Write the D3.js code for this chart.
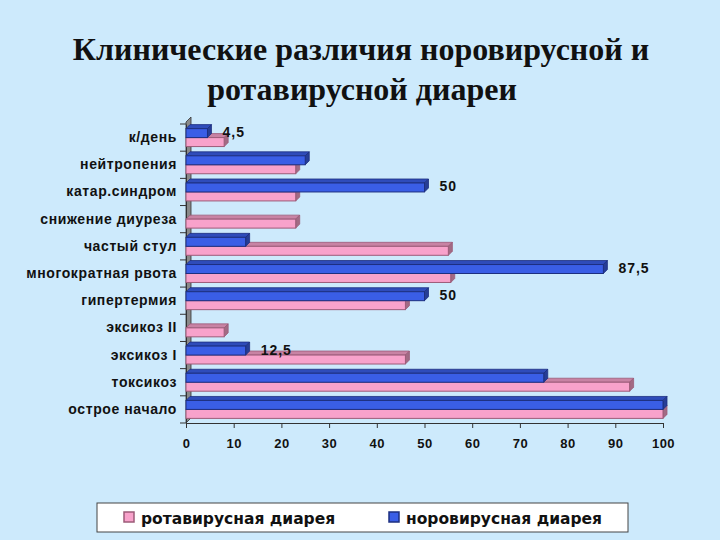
<!doctype html>
<html>
<head>
<meta charset="utf-8">
<style>
  body { margin: 0; background: #cdeafc; }
  svg { display: block; }
  .cat text { font-family: "Liberation Sans", Arial, sans-serif; font-weight: bold; font-size: 14px; letter-spacing: 0.6px; fill: #111; }
  .xaxis text { font-family: "Liberation Sans", Arial, sans-serif; font-weight: bold; font-size: 13px; letter-spacing: 0.5px; fill: #111; }
</style>
<script src="https://d3js.org/d3.v7.min.js"></script>
</head>
<body>
<svg width="720" height="540"></svg>
<script>
// categories from top to bottom
var categories = ["к/день", "нейтропения", "катар.синдром", "снижение диуреза", "частый стул",
                  "многократная рвота", "гипертермия", "эксикоз II", "эксикоз I", "токсикоз", "острое начало"];
var rota = [8, 23, 23, 23, 55, 55.5, 46, 8, 46, 93, 100];
var noro = [4.5, 25, 50, 0, 12.5, 87.5, 50, 0, 12.5, 75, 100];
var noroLabels = ["4,5", "", "50", "", "", "87,5", "50", "", "12,5", "", ""];
var xTicks = [0, 10, 20, 30, 40, 50, 60, 70, 80, 90, 100];
var seriesNames = ["ротавирусная диарея", "норовирусная диарея"];

var pink = "#f8a2cb", pinkDark = "#9c5b78";
var blue = "#3a5ee6", blueDark = "#1d2f80";
var depth = 4;

var svg = d3.select("svg");

svg.append("rect").attr("width", 720).attr("height", 540).attr("fill", "#cdeafc");

// title
var title = svg.append("text")
    .attr("text-anchor", "middle")
    .attr("font-family", "'Liberation Serif', 'Times New Roman', serif")
    .attr("font-weight", "bold")
    .attr("font-size", "32px")
    .attr("fill", "#111");
title.append("tspan").attr("x", 361).attr("y", 60).text("Клинические различия норовирусной и");
title.append("tspan").attr("x", 362).attr("y", 100).text("ротавирусной диареи");

var x = d3.scaleLinear().domain([0, 100]).range([186, 663]);
var y = d3.scaleBand().domain(categories).range([124, 423]).paddingInner(0.34).paddingOuter(0.17);
var bh = y.bandwidth() / 2;

// left wall
var wd = 5, wallTop = 124 - wd - 2, wallBot = 423;
svg.append("path")
    .attr("d", "M" + x(0) + "," + (wallTop + wd) + "L" + (x(0) + wd) + "," + wallTop +
               "L" + (x(0) + wd) + "," + (wallBot - wd) + "L" + x(0) + "," + wallBot + "Z")
    .attr("fill", "#8a8a8a").attr("stroke", "#333").attr("stroke-width", 0.8);

// category axis
var cat = svg.append("g").attr("class", "cat")
    .attr("transform", "translate(" + x(0) + ",0)")
    .call(d3.axisLeft(y).tickSize(0).tickPadding(9));
cat.select(".domain").attr("stroke", "#333");
// ticks between categories
svg.selectAll(".sep").data(d3.range(categories.length + 1)).enter().append("line")
    .attr("x1", x(0) - 6).attr("x2", x(0))
    .attr("y1", function(i) { return 124 + i * y.step(); })
    .attr("y2", function(i) { return 124 + i * y.step(); })
    .attr("stroke", "#333");

function bar3d(g, v, top, fill, dark) {
    if (!v) return;
    var x0 = x(0), x1 = x(v), t = top, b = top + bh;
    g.append("path")
        .attr("d", "M" + x0 + "," + t + "L" + (x0 + depth) + "," + (t - depth) + "L" + (x1 + depth) + "," + (t - depth) + "L" + x1 + "," + t + "Z")
        .attr("fill", d3.color(fill).darker(0.6)).attr("stroke", dark).attr("stroke-width", 0.8);
    g.append("path")
        .attr("d", "M" + x1 + "," + t + "L" + (x1 + depth) + "," + (t - depth) + "L" + (x1 + depth) + "," + (b - depth) + "L" + x1 + "," + b + "Z")
        .attr("fill", d3.color(fill).darker(1.2)).attr("stroke", dark).attr("stroke-width", 0.8);
    g.append("rect")
        .attr("x", x0).attr("y", t).attr("width", x1 - x0).attr("height", bh)
        .attr("fill", fill).attr("stroke", dark).attr("stroke-width", 1);
}

var bars = svg.append("g");
categories.forEach(function(c, i) {
    var g = bars.append("g");
    bar3d(g, rota[i], y(c) + bh, pink, pinkDark);
    bar3d(g, noro[i], y(c), blue, blueDark);
    if (noroLabels[i]) {
        svg.append("text")
            .attr("x", x(noro[i]) + 15)
            .attr("y", y(c) + bh / 2 + 4)
            .attr("font-family", "'Liberation Sans', Arial, sans-serif")
            .attr("font-weight", "bold").attr("font-size", "14px")
            .attr("letter-spacing", "1px")
            .attr("fill", "#111")
            .text(noroLabels[i]);
    }
});

// x axis
var xa = svg.append("g").attr("class", "xaxis")
    .attr("transform", "translate(0,423)")
    .call(d3.axisBottom(x).tickValues(xTicks).tickSize(5).tickPadding(11));
xa.selectAll("line, .domain").attr("stroke", "#333");

// legend
var lg = svg.append("g");
lg.append("rect").attr("x", 97).attr("y", 503).attr("width", 531).attr("height", 29)
    .attr("fill", "#fff").attr("stroke", "#444");
var legendX = [124, 389];
var legendFill = [[pink, pinkDark], [blue, blueDark]];
seriesNames.forEach(function(n, i) {
    lg.append("rect").attr("x", legendX[i]).attr("y", 512).attr("width", 10).attr("height", 10)
        .attr("fill", legendFill[i][0]).attr("stroke", legendFill[i][1]).attr("stroke-width", 1.5);
    lg.append("text").attr("x", legendX[i] + 17).attr("y", 524)
        .attr("font-family", "'DejaVu Sans', Verdana, sans-serif")
        .attr("font-weight", "bold").attr("font-size", "15.5px").attr("fill", "#111")
        .text(n);
});
</script>
</body>
</html>
